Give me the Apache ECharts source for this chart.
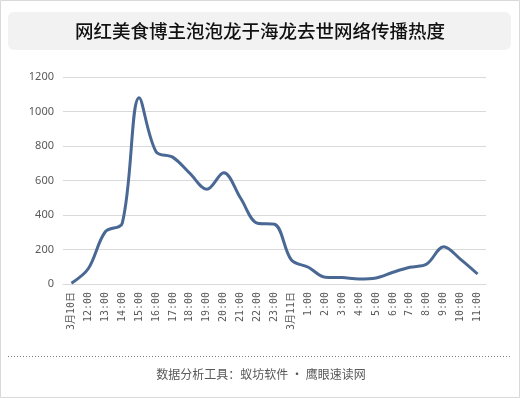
<!DOCTYPE html>
<html>
<head>
<meta charset="utf-8">
<script src="https://cdn.jsdelivr.net/npm/echarts@6/dist/echarts.min.js"></script>
<style>
  html, body { margin: 0; padding: 0; background: #fff; }
  #chart { width: 520px; height: 398px; }
</style>
</head>
<body>
<div id="chart"></div>
<script>
var chartDom = document.getElementById("chart");
var heatChart = echarts.init(chartDom);

var categories = [
  "3月10日", "12:00", "13:00", "14:00", "15:00", "16:00", "17:00", "18:00",
  "19:00", "20:00", "21:00", "22:00", "23:00", "3月11日", "1:00", "2:00",
  "3:00", "4:00", "5:00", "6:00", "7:00", "8:00", "9:00", "10:00", "11:00"
];
var heatValues = [
  5, 90, 303, 352, 1080, 767, 734, 641, 549, 645, 497, 352, 346,
  139, 97, 39, 37, 29, 35, 68, 97, 116, 216, 143, 58
];
var yTicks = [0, 200, 400, 600, 800, 1000, 1200];

var option = {
  animation: false,
  backgroundColor: "#fff",
  graphic: [
    {
      type: "rect",
      shape: { x: 0.5, y: 0.5, width: 519, height: 397 },
      style: { fill: "none", stroke: "#d9d9d9", lineWidth: 1 },
      z: 0,
    },
    {
      type: "rect",
      shape: { x: 8, y: 12, width: 503, height: 38, r: 6 },
      style: { fill: "#f2f2f2" },
      z: 0,
    },
    {
      type: "text",
      x: 260,
      y: 31,
      style: {
        text: "网红美食博主泡泡龙于海龙去世网络传播热度",
        font: "500 18.5px 'Noto Sans CJK SC'",
        fill: "#111",
        align: "center",
        verticalAlign: "middle",
      },
      z: 1,
    },
    {
      type: "line",
      shape: { x1: 8, y1: 356.5, x2: 511, y2: 356.5 },
      style: { stroke: "#7f7f7f", lineWidth: 1, lineDash: [1, 2] },
    },
    {
      type: "text",
      x: 261,
      y: 374,
      style: {
        text: "数据分析工具：蚁坊软件 · 鹰眼速读网",
        font: "12px 'Noto Sans CJK SC'",
        fill: "#595959",
        align: "center",
        verticalAlign: "middle",
      },
    },
  ],
  grid: {
    left: 63,
    right: 34,
    top: 77,
    bottom: 114,
  },
  xAxis: {
    type: "category",
    data: categories,
    boundaryGap: true,
    axisLine: { lineStyle: { color: "#d9d9d9" } },
    axisTick: { show: false },
    axisLabel: {
      rotate: 90,
      interval: 0,
      color: "#595959",
      fontSize: 10,
      fontFamily: "'DejaVu Sans Mono', 'Noto Sans CJK SC'",
      margin: 8,
    },
  },
  yAxis: {
    type: "value",
    min: yTicks[0],
    max: yTicks[yTicks.length - 1],
    interval: 200,
    axisLine: { show: false },
    axisTick: { show: false },
    splitLine: { lineStyle: { color: "#d9d9d9" } },
    axisLabel: {
      color: "#595959",
      fontSize: 11,
      fontFamily: "'Noto Sans'",
      margin: 9,
      formatter: function (v) { return String(v); },
    },
  },
  series: [
    {
      type: "line",
      data: heatValues,
      smooth: 0.35,
      symbol: "none",
      lineStyle: { color: "#4a6894", width: 3 },
    },
  ],
};

heatChart.setOption(option);
</script>
</body>
</html>
